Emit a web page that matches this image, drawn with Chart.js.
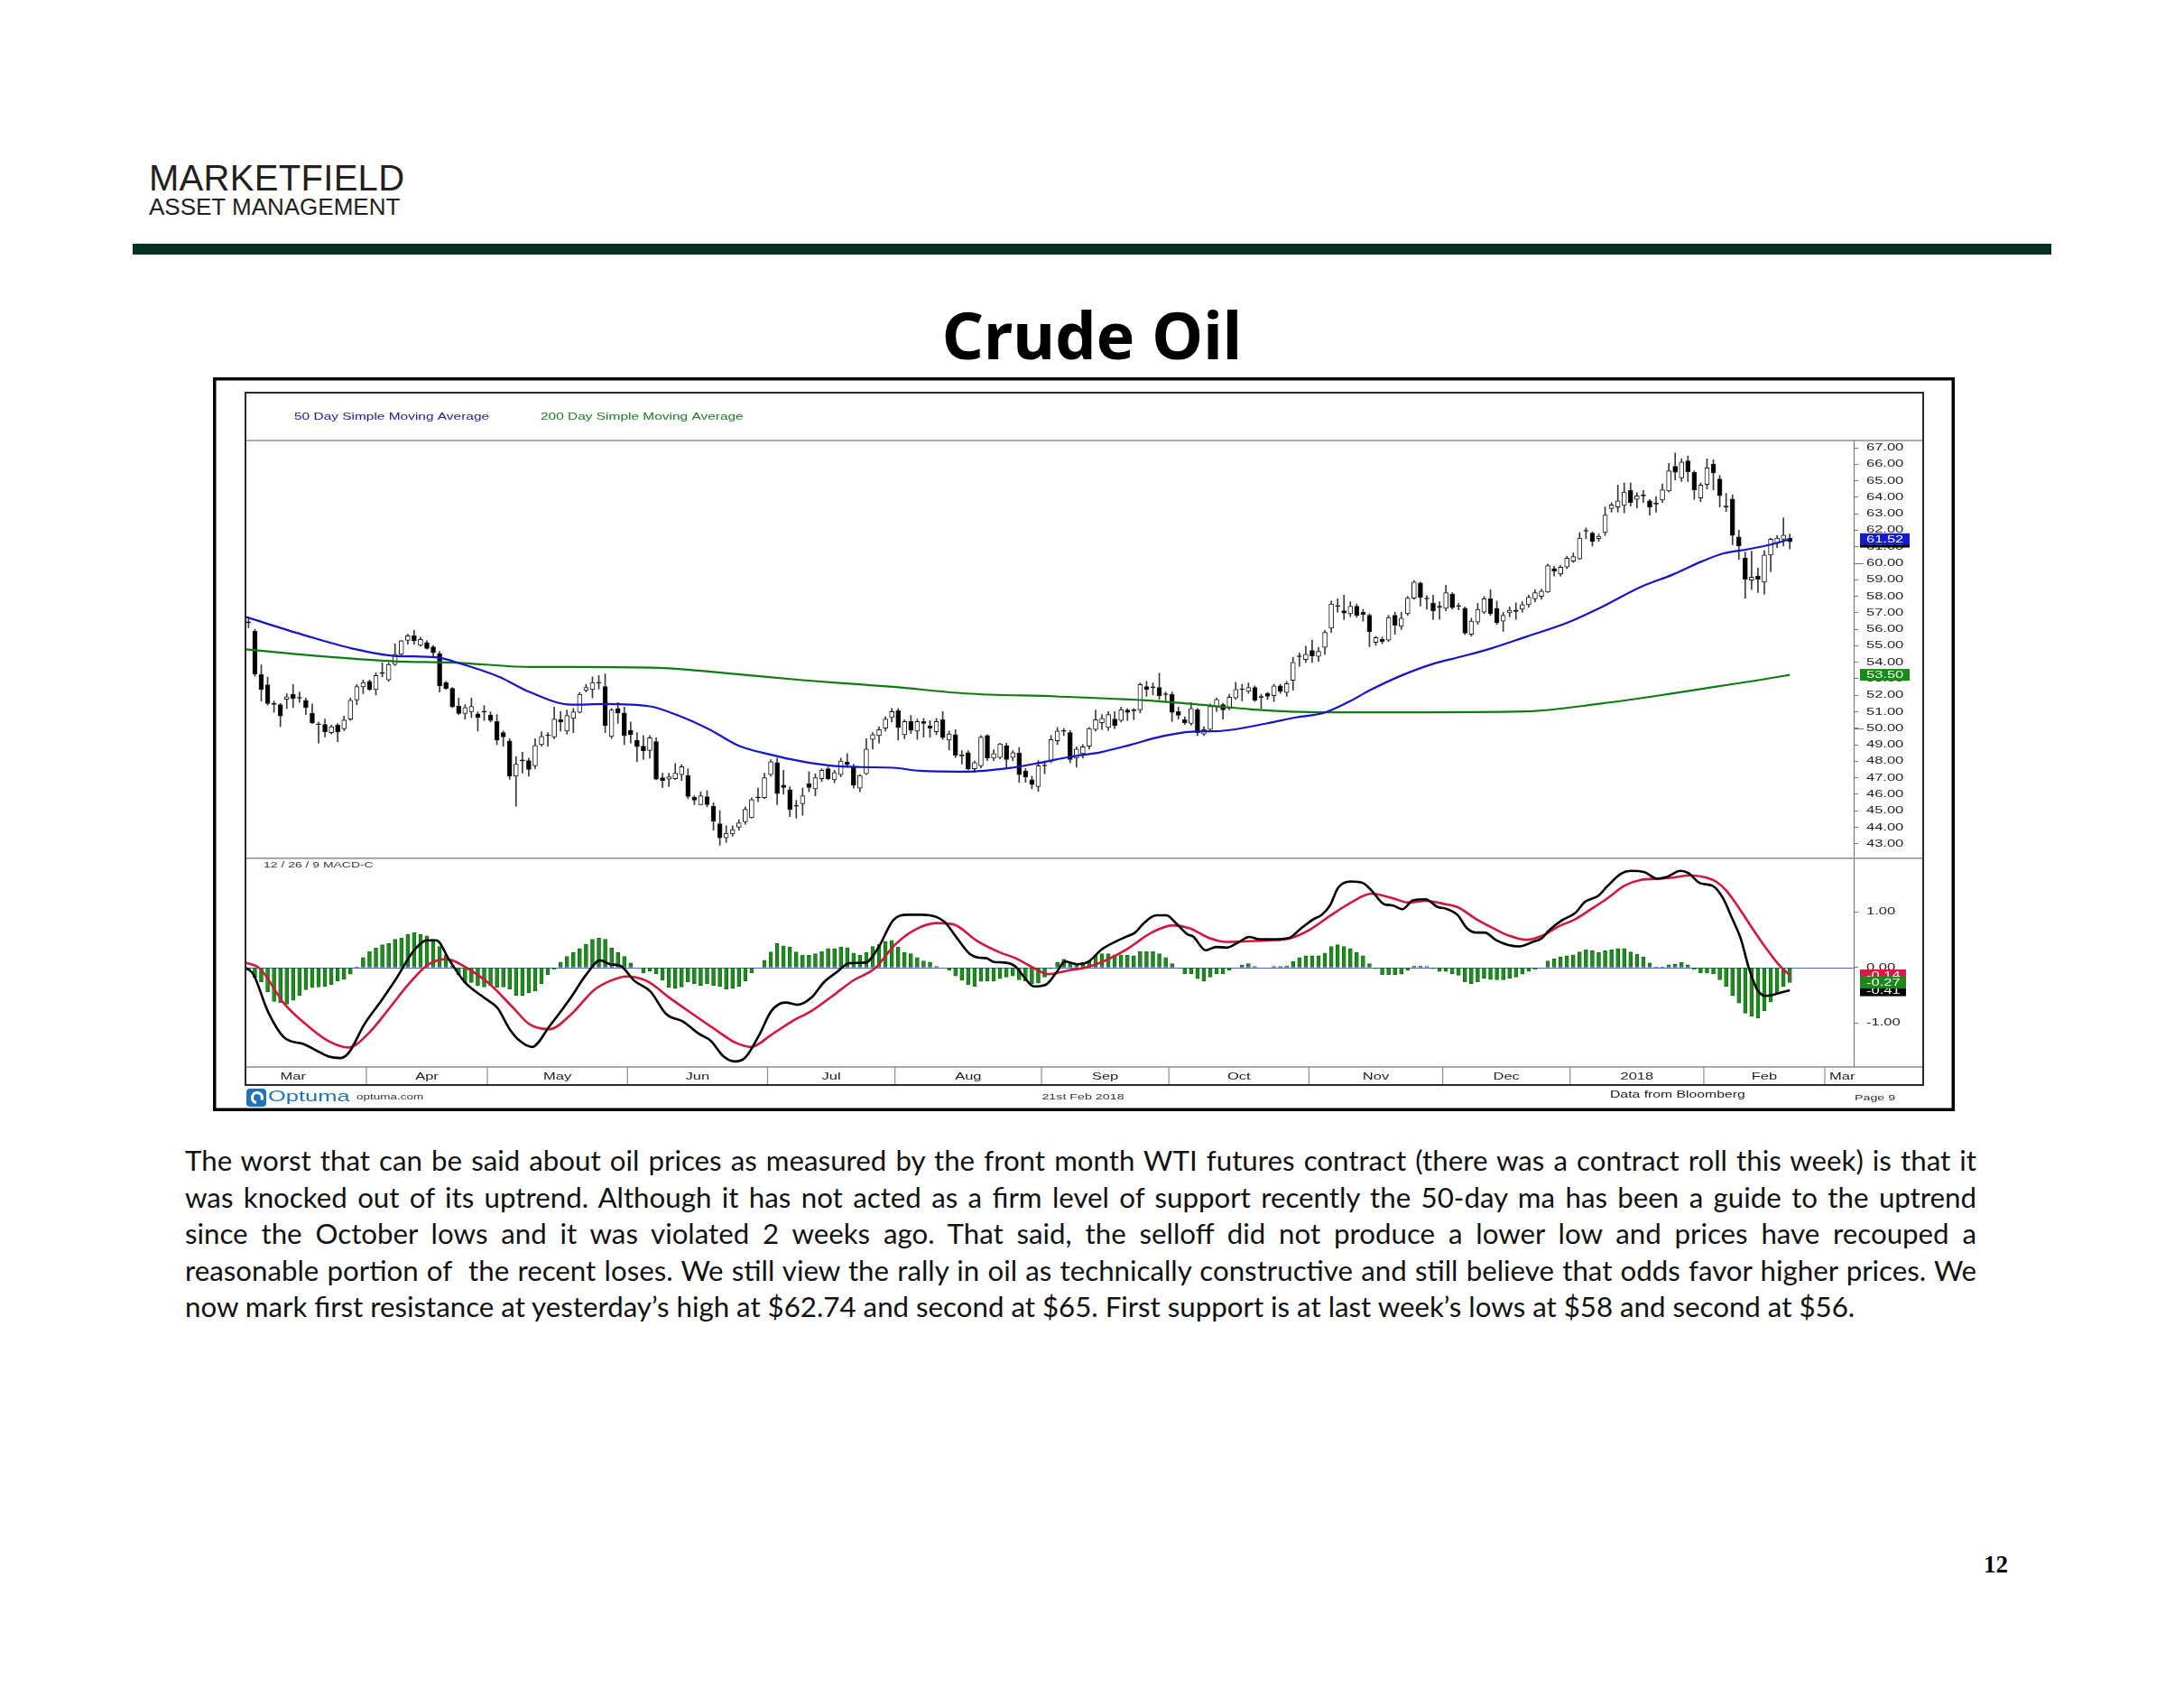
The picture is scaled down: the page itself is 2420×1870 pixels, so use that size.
<!DOCTYPE html>
<html>
<head>
<meta charset="utf-8">
<title>Crude Oil</title>
<script src="https://cdn.jsdelivr.net/npm/chart.js@4.4.1/dist/chart.umd.min.js"></script>
<style>
  html, body { margin: 0; padding: 0; background: #fff; }
  body { width: 2420px; height: 1870px; position: relative; overflow: hidden; font-family: "Liberation Sans", Arial, sans-serif; }
  .brand { position: absolute; left: 165px; color: #231f20; white-space: nowrap; }
  #brand1 { top: 177px; font-size: 40px; line-height: 40px; letter-spacing: 0.3px; }
  #brand2 { top: 216px; font-size: 26px; line-height: 26px; }
  #rule { position: absolute; left: 147px; top: 270px; width: 2126px; height: 12px; background: #06301f; }
  #title { position: absolute; left: 0; width: 2420px; top: 334px; text-align: center; font-family: "Noto Sans", sans-serif; font-weight: 700; font-size: 72px; line-height: 72px; color: #000; }
  #chart { position: absolute; left: 236px; top: 418px; width: 1930px; height: 813px; }
  #notes { position: absolute; left: 205px; top: 1265px; width: 1985px; font-family: Lato, sans-serif; font-size: 28.5px; line-height: 40.5px; color: #111; }
  #notes .ln { white-space: pre; height: 40.5px; }
  #pageNo { position: absolute; left: 2150px; width: 75px; text-align: right; top: 1718px; font-family: "Liberation Serif", serif; font-weight: 700; font-size: 27px; line-height: 30px; color: #000; }
</style>
</head>
<body>
<div id="brand1" class="brand">MARKETFIELD</div>
<div id="brand2" class="brand">ASSET MANAGEMENT</div>
<div id="rule"></div>
<div id="title">Crude Oil</div>
<canvas id="chart" width="1930" height="813"></canvas>
<div id="notes">
  <div class="ln just"><span>The worst that can be said about oil prices as measured by the front month WTI futures contract (there was a contract roll this week) is that it</span></div>
  <div class="ln just"><span>was knocked out of its uptrend. Although it has not acted as a firm level of support recently the 50-day ma has been a guide to the uptrend</span></div>
  <div class="ln just"><span>since the October lows and it was violated 2 weeks ago. That said, the selloff did not produce a lower low and prices have recouped a</span></div>
  <div class="ln just"><span>reasonable portion of  the recent loses. We still view the rally in oil as technically constructive and still believe that odds favor higher prices. We</span></div>
  <div class="ln last"><span>now mark first resistance at yesterday’s high at $62.74 and second at $65. First support is at last week’s lows at $58 and second at $56.</span></div>
</div>
<div id="pageNo">12</div>

<script>
// Daily front-month candles, Mar 7 2017 .. Feb 21 2018 (index = trading day)
var opens = [
  56.45, 55.88, 53.25, 52.64, 51.47, 51.43, 51.76, 52.05, 51.83, 51.7,
  50.92, 50.24, 50.23, 49.74, 50.19, 49.97, 50.56, 51.72, 52.51, 52.84,
  52.34, 53.34, 52.93, 53.87, 54.48, 55.33, 55.61, 55.02, 55.2, 54.93,
  54.53, 52.78, 52.42, 51.34, 50.89, 51.0, 50.87, 51.0, 50.81, 50.41,
  49.74, 49.23, 47.1, 48.05, 48.04, 47.73, 49.01, 49.57, 49.47, 50.52,
  49.83, 50.6, 50.96, 52.29, 52.35, 52.76, 52.53, 49.5, 51.2, 50.93,
  49.87, 49.28, 48.92, 48.65, 49.19, 47.01, 46.92, 46.95, 47.19, 47.14,
  45.82, 45.37, 45.86, 45.28, 44.22, 43.36, 43.6, 44.0, 44.33, 44.58,
  45.8, 45.79, 47.19, 47.92, 46.55, 46.28, 45.29, 45.42, 46.64, 46.33,
  46.95, 47.55, 46.88, 47.19, 47.95, 47.68, 46.37, 47.24, 49.32, 49.56,
  50.01, 50.65, 51.07, 49.61, 50.41, 49.83, 50.41, 50.14, 49.79, 50.52,
  49.28, 49.61, 48.35, 48.52, 47.55, 47.73, 49.56, 48.19, 48.23, 48.95,
  48.23, 48.5, 47.42, 46.88, 46.46, 47.74, 48.01, 49.24, 49.84, 49.74,
  48.19, 48.46, 48.92, 49.92, 50.34, 50.05, 50.56, 50.47, 51.11, 51.08,
  51.11, 52.53, 52.48, 52.47, 52.06, 52.05, 51.01, 50.52, 50.29, 51.14,
  49.65, 49.93, 51.29, 51.44, 51.2, 51.84, 52.36, 52.24, 52.48, 51.89,
  52.11, 51.98, 52.57, 52.17, 52.9, 54.36, 54.17, 54.72, 54.35, 54.9,
  56.07, 57.41, 57.12, 56.94, 57.4, 57.03, 56.85, 55.21, 55.39, 55.34,
  56.85, 56.18, 56.94, 57.89, 58.8, 57.86, 57.58, 57.36, 57.27, 58.13,
  57.41, 57.27, 55.7, 56.43, 57.03, 57.85, 57.27, 56.49, 57.0, 57.17,
  57.22, 57.49, 57.85, 58.0, 58.25, 59.68, 59.35, 59.77, 60.13, 60.26,
  61.95, 61.83, 61.5, 61.86, 63.32, 63.41, 63.5, 64.41, 63.87, 64.09,
  63.78, 63.6, 63.83, 64.38, 65.87, 65.18, 66.2, 65.51, 63.96, 64.78,
  66.02, 65.11, 63.42, 63.9, 61.59, 60.31, 58.98, 59.22, 58.86, 60.5,
  61.22, 61.46, 61.53
];
var highs = [
  56.75, 56.0, 53.84, 53.1, 51.65, 51.5, 52.1, 52.65, 52.2, 51.83,
  51.47, 50.38, 50.56, 50.19, 50.28, 50.74, 51.83, 52.65, 52.93, 52.93,
  53.38, 53.98, 53.98, 55.11, 55.33, 55.7, 55.93, 55.52, 55.3, 55.02,
  54.66, 52.84, 52.47, 51.83, 51.43, 51.83, 51.0, 51.38, 51.0, 50.83,
  49.83, 49.37, 48.28, 48.55, 48.19, 49.37, 49.79, 49.74, 51.29, 51.02,
  51.1, 51.2, 52.17, 52.66, 53.11, 53.2, 53.3, 51.2, 51.56, 51.29,
  50.38, 49.74, 49.56, 49.56, 49.43, 47.28, 47.28, 47.86, 47.79, 47.55,
  45.91, 46.15, 46.22, 45.49, 45.0, 44.09, 44.09, 44.46, 45.24, 45.79,
  46.37, 47.28, 48.1, 48.19, 47.46, 46.46, 45.64, 46.37, 47.37, 47.24,
  47.55, 47.64, 47.46, 48.19, 48.46, 47.83, 47.19, 49.37, 49.74, 50.1,
  50.7, 51.2, 51.2, 50.52, 50.78, 50.56, 50.6, 50.47, 50.6, 51.01,
  49.83, 49.92, 48.65, 48.65, 48.01, 49.56, 49.61, 48.7, 49.1, 49.1,
  48.65, 48.83, 47.55, 47.1, 48.04, 48.01, 49.56, 50.05, 49.98, 49.87,
  48.88, 49.01, 50.05, 51.11, 50.83, 51.01, 51.01, 51.29, 51.2, 51.2,
  52.75, 52.84, 52.75, 53.33, 52.2, 52.2, 51.29, 50.7, 51.56, 51.2,
  50.1, 51.47, 51.84, 51.51, 52.06, 52.79, 52.66, 52.75, 52.57, 52.06,
  52.17, 52.66, 52.66, 52.84, 54.3, 54.57, 54.97, 55.34, 54.9, 55.94,
  57.71, 57.85, 58.07, 57.67, 57.53, 57.21, 56.94, 55.58, 55.52, 56.85,
  57.03, 57.03, 58.0, 58.95, 58.86, 58.04, 58.07, 57.67, 58.67, 58.22,
  57.58, 57.35, 56.67, 57.58, 57.98, 58.4, 57.71, 57.03, 57.35, 57.6,
  57.67, 58.07, 58.4, 58.44, 59.95, 59.82, 59.86, 60.44, 60.62, 61.86,
  62.14, 61.9, 61.77, 63.41, 63.68, 64.74, 64.87, 64.87, 64.27, 64.41,
  63.87, 64.05, 64.81, 66.05, 66.69, 66.33, 66.51, 65.6, 64.87, 66.33,
  66.27, 65.33, 64.23, 64.14, 62.01, 60.68, 60.73, 59.71, 60.77, 61.53,
  61.68, 62.74, 61.77
];
var lows = [
  56.1, 53.15, 51.65, 51.4, 50.96, 50.1, 51.2, 51.25, 51.56, 50.83,
  50.28, 49.1, 49.47, 49.65, 49.19, 49.86, 50.47, 51.43, 52.1, 52.29,
  52.02, 53.11, 52.84, 53.8, 54.39, 55.1, 55.1, 54.97, 54.79, 54.39,
  52.2, 52.34, 51.25, 50.83, 50.56, 50.65, 49.83, 50.47, 50.38, 49.01,
  48.92, 46.9, 45.27, 47.28, 47.1, 47.55, 48.92, 48.92, 49.37, 49.83,
  49.65, 49.74, 50.93, 52.2, 51.84, 52.38, 49.74, 49.38, 50.29, 49.01,
  49.1, 47.97, 48.1, 48.19, 46.88, 46.41, 46.46, 46.88, 46.83, 45.73,
  45.37, 45.37, 45.24, 43.82, 42.91, 43.09, 43.45, 43.82, 44.18, 44.55,
  45.55, 45.73, 47.1, 45.37, 46.0, 44.64, 44.55, 44.73, 46.15, 45.91,
  46.77, 46.88, 46.7, 47.06, 47.64, 46.37, 46.15, 47.19, 48.74, 49.1,
  49.83, 50.38, 49.28, 49.37, 49.68, 49.32, 49.46, 49.46, 49.61, 49.32,
  48.7, 48.23, 47.83, 47.46, 47.32, 47.6, 48.04, 48.04, 48.15, 47.6,
  48.04, 46.73, 46.73, 46.33, 46.18, 47.24, 47.92, 49.01, 49.56, 47.92,
  47.64, 48.19, 48.74, 49.83, 49.92, 49.87, 49.98, 50.38, 50.47, 50.52,
  50.92, 51.93, 52.02, 51.74, 51.65, 50.41, 50.56, 50.23, 50.19, 49.56,
  49.56, 49.84, 51.02, 50.56, 51.11, 51.75, 51.66, 52.11, 51.62, 51.2,
  51.75, 51.62, 52.11, 51.93, 52.3, 53.75, 53.99, 53.99, 54.06, 54.48,
  55.81, 57.03, 56.58, 56.76, 56.72, 56.49, 54.94, 55.03, 55.12, 55.26,
  55.7, 55.99, 56.85, 57.82, 57.4, 57.21, 56.58, 56.61, 57.12, 57.21,
  57.17, 55.67, 55.58, 56.3, 56.94, 56.85, 56.3, 55.88, 56.75, 56.6,
  57.03, 57.34, 57.67, 57.82, 58.22, 59.22, 59.22, 59.68, 60.04, 60.22,
  61.5, 61.04, 61.32, 61.68, 63.1, 63.1, 63.05, 63.47, 63.36, 63.68,
  62.92, 63.1, 63.68, 64.32, 65.05, 64.96, 64.96, 63.87, 63.72, 64.5,
  64.45, 63.41, 63.14, 61.13, 60.22, 57.89, 58.4, 58.22, 58.13, 59.49,
  60.95, 61.04, 60.86
];
var closes = [
  56.4, 53.29, 52.34, 51.5, 51.45, 50.74, 51.91, 51.8, 51.82, 51.25,
  50.34, 50.22, 49.79, 50.1, 49.79, 50.5, 51.69, 52.53, 52.78, 52.34,
  53.2, 53.32, 53.87, 54.48, 55.3, 55.61, 55.3, 55.39, 54.84, 54.57,
  52.56, 52.42, 51.29, 50.89, 51.25, 51.32, 50.65, 50.98, 50.47, 49.28,
  49.47, 47.1, 47.82, 48.03, 47.5, 48.96, 49.5, 49.55, 50.56, 50.38,
  50.78, 51.0, 52.06, 52.48, 52.78, 52.74, 50.16, 51.11, 50.93, 49.56,
  49.61, 48.88, 48.63, 49.43, 46.92, 46.83, 47.06, 47.28, 47.68, 45.86,
  45.64, 45.91, 45.37, 44.37, 43.36, 43.64, 43.86, 44.27, 45.09, 45.68,
  45.78, 47.01, 47.97, 46.04, 46.41, 45.09, 45.27, 45.91, 46.41, 47.01,
  47.46, 46.95, 47.32, 48.01, 47.79, 46.55, 47.14, 48.74, 49.61, 49.92,
  50.56, 51.01, 50.05, 50.41, 49.87, 50.41, 50.29, 50.01, 50.41, 49.43,
  49.65, 48.37, 48.33, 47.55, 47.92, 49.46, 48.19, 48.46, 49.06, 48.1,
  48.52, 47.19, 47.06, 46.59, 47.73, 47.72, 49.32, 49.83, 49.82, 48.1,
  48.74, 48.88, 49.98, 50.52, 50.6, 50.83, 50.16, 51.14, 50.96, 51.06,
  52.65, 52.35, 52.46, 51.98, 52.04, 50.96, 50.78, 50.34, 51.2, 49.74,
  49.92, 51.33, 51.75, 51.11, 51.88, 52.35, 52.34, 52.48, 51.7, 51.87,
  51.93, 52.57, 52.24, 52.71, 53.99, 54.34, 54.48, 54.39, 54.66, 55.81,
  57.53, 57.39, 56.98, 57.4, 56.85, 56.9, 55.85, 55.49, 55.26, 56.72,
  56.25, 56.67, 57.89, 58.86, 57.94, 57.84, 57.12, 57.34, 58.22, 57.31,
  57.39, 55.76, 56.49, 57.21, 57.85, 56.94, 56.4, 56.85, 57.15, 57.08,
  57.49, 57.94, 58.22, 58.31, 59.86, 59.53, 59.77, 60.31, 60.4, 61.53,
  61.94, 61.32, 61.64, 62.92, 63.54, 63.78, 64.32, 63.68, 64.09, 64.08,
  63.41, 63.59, 64.45, 65.6, 65.51, 66.14, 65.54, 64.45, 64.74, 65.78,
  65.47, 64.09, 63.41, 61.68, 61.04, 59.04, 59.16, 59.04, 60.5, 61.46,
  61.53, 61.71, 61.31
];

// Moving averages at sample days
var ma50Days = [-0.48, 8.6, 16.2, 22.8, 29.4, 33.2, 39.4, 44.1, 50.7, 55.9, 63.0, 67.7, 72.4, 77.1, 81.9, 86.6, 91.3, 96.0, 101.2, 105.5, 112.6, 119.7, 124.4, 129.1, 133.8, 138.6, 143.3, 148.0, 152.7, 159.8, 164.5, 168.8, 172.6, 176.3, 181.1, 185.8, 190.5, 195.2, 200.4, 207.1, 211.8, 218.9, 223.6, 228.3, 231.6, 235.4, 239.2, 242];
var ma50Vals = [56.75, 55.66, 54.84, 54.39, 54.3, 53.93, 53.11, 52.2, 51.43, 51.47, 51.33, 50.74, 49.92, 48.92, 48.41, 48.01, 47.74, 47.65, 47.61, 47.42, 47.37, 47.6, 47.92, 48.28, 48.55, 49.01, 49.5, 49.79, 49.84, 50.29, 50.66, 50.93, 51.57, 52.35, 53.21, 53.88, 54.35, 54.85, 55.52, 56.4, 57.22, 58.62, 59.31, 60.13, 60.6, 60.85, 61.15, 61.46];
var ma200Days = [-0.48, 13.4, 22.8, 32.3, 44.1, 51.6, 64.4, 77.1, 86.6, 96.0, 101.2, 112.6, 126.8, 140.9, 150.8, 157.4, 168.8, 181.1, 200.4, 212.4, 223.4, 230.0, 237.3, 242];
var ma200Vals = [54.78, 54.3, 54.06, 53.98, 53.72, 53.72, 53.66, 53.26, 52.93, 52.66, 52.51, 52.11, 51.93, 51.69, 51.38, 51.15, 50.97, 50.97, 51.02, 51.5, 52.1, 52.5, 52.93, 53.24];

// MACD 12/26/9
var macdDays = [-0.45, 0.8, 3.0, 5.6, 8.7, 10.6, 12.5, 14.4, 15.7, 18.2, 20.7, 23.3, 25.8, 28.0, 29.5, 31.5, 34.0, 37.2, 39.1, 41.0, 42.6, 44.5, 47.3, 50.5, 53.0, 55.2, 56.8, 58.4, 60.6, 63.1, 65.6, 68.2, 70.7, 72.6, 74.5, 76.4, 78.0, 80.2, 82.1, 84.3, 86.2, 88.4, 90.3,
  92.4, 94.3, 96.9, 98.9, 101.2, 103.5, 105.7, 108.0, 109.3, 111.3, 113.2, 114.5, 115.8, 117.1, 118.7, 120.4, 121.7, 123.3, 125.3, 126.9, 128.2, 130.1, 131.8, 134.0, 136.0, 137.9, 139.2, 140.5, 142.5, 144.1, 145.7, 147.4, 148.3, 150.3, 151.9, 153.6, 155.5, 157.1, 158.8, 160.7, 163.3, 165.3, 167.2, 168.5, 169.8, 171.1, 173.1, 175.0, 176.3, 178.3, 179.6, 181.2, 182.8, 184.8, 186.7, 188.0,
  189.8, 191.3, 192.8, 194.1, 195.9, 197.7, 199.5, 201.6, 203.1, 204.2, 206.2, 208.3, 209.8, 211.9, 213.4, 215.5, 217.0, 219.1, 221.2, 222.7, 224.8, 226.1, 227.9, 229.9, 231.5, 233.0, 234.3, 235.6, 236.9, 238.2, 239.7, 241.3, 242];
var macdVals = [0.0, -0.13, -0.78, -1.26, -1.38, -1.49, -1.6, -1.63, -1.54, -1.02, -0.62, -0.18, 0.28, 0.49, 0.49, 0.14, -0.27, -0.56, -0.73, -1.11, -1.32, -1.43, -1.05, -0.56, -0.13, 0.13, 0.06, 0.03, -0.24, -0.43, -0.84, -0.97, -1.19, -1.32, -1.59, -1.69, -1.62, -1.21, -0.78, -0.63, -0.67, -0.54, -0.27,
  -0.08, 0.08, 0.09, 0.36, 0.85, 0.95, 0.95, 0.91, 0.82, 0.52, 0.25, 0.18, 0.17, 0.1, 0.09, 0.02, -0.16, -0.34, -0.3, -0.08, 0.11, 0.06, 0.1, 0.33, 0.46, 0.56, 0.63, 0.79, 0.94, 0.94, 0.79, 0.6, 0.56, 0.31, 0.37, 0.36, 0.46, 0.55, 0.51, 0.51, 0.53, 0.71, 0.87, 0.95, 1.12, 1.44, 1.55, 1.52, 1.39, 1.14, 1.12, 1.05, 1.21, 1.23, 1.09, 1.06,
  0.95, 0.71, 0.63, 0.63, 0.49, 0.41, 0.38, 0.46, 0.53, 0.67, 0.85, 0.98, 1.18, 1.29, 1.47, 1.69, 1.74, 1.72, 1.6, 1.63, 1.74, 1.7, 1.52, 1.47, 1.25, 0.87, 0.52, -0.02, -0.4, -0.51, -0.48, -0.43, -0.41];
var signalDays = [-0.45, 1.8, 5.6, 9.3, 12.5, 15.7, 18.8, 22.0, 25.2, 28.3, 31.2, 34.0, 37.8, 41.6, 44.1, 47.3, 50.5, 54.3, 56.8, 59.3, 62.5, 66.3, 69.4, 73.2, 76.4, 78.9, 82.1, 85.3, 88.4,
  91.7, 95.0, 98.3, 101.5, 104.8, 108.0, 110.6, 114.5, 117.8, 120.4, 123.0, 125.6, 128.8, 131.4, 134.0, 137.9, 141.8, 145.1, 147.7, 150.9, 153.6, 156.2, 160.1, 163.3, 166.6, 169.8, 173.1, 176.3, 179.6, 182.2, 184.8, 188.0,
  189.8, 192.8, 195.4, 198.0, 200.6, 203.1, 205.7, 208.3, 210.9, 213.4, 216.0, 218.6, 221.2, 223.7, 226.3, 228.9, 230.4, 232.0, 234.1, 236.1, 238.2, 240.2, 242];
var signalVals = [0.09, -0.02, -0.65, -1.05, -1.32, -1.44, -1.19, -0.75, -0.29, 0.06, 0.15, 0.01, -0.29, -0.73, -1.02, -1.11, -0.86, -0.4, -0.24, -0.16, -0.24, -0.56, -0.81, -1.11, -1.35, -1.43, -1.21, -0.97, -0.78,
  -0.51, -0.23, -0.02, 0.41, 0.69, 0.8, 0.78, 0.47, 0.28, 0.17, 0.01, -0.12, -0.05, 0.0, 0.1, 0.33, 0.63, 0.76, 0.71, 0.53, 0.46, 0.47, 0.49, 0.52, 0.68, 0.93, 1.17, 1.33, 1.25, 1.17, 1.2, 1.14,
  1.09, 0.87, 0.71, 0.57, 0.5, 0.57, 0.74, 0.87, 1.06, 1.25, 1.47, 1.58, 1.6, 1.62, 1.66, 1.62, 1.55, 1.39, 1.06, 0.71, 0.36, 0.06, -0.14];
var histVals = [
  -0.05, -0.18, -0.26, -0.44, -0.61, -0.63, -0.66, -0.59, -0.5, -0.4,
  -0.36, -0.35, -0.34, -0.31, -0.24, -0.21, -0.12, 0.01, 0.18, 0.29,
  0.35, 0.41, 0.43, 0.51, 0.53, 0.6, 0.63, 0.6, 0.57, 0.51,
  0.38, 0.22, 0.03, -0.13, -0.27, -0.27, -0.32, -0.35, -0.32, -0.36,
  -0.35, -0.39, -0.5, -0.5, -0.45, -0.42, -0.29, -0.13, -0.03, 0.1,
  0.2, 0.27, 0.34, 0.42, 0.51, 0.53, 0.51, 0.35, 0.27, 0.2,
  0.08, 0.0, -0.1, -0.06, -0.11, -0.23, -0.36, -0.37, -0.35, -0.26,
  -0.29, -0.32, -0.29, -0.32, -0.34, -0.39, -0.37, -0.34, -0.24, -0.1,
  0.0, 0.13, 0.28, 0.43, 0.39, 0.37, 0.28, 0.22, 0.22, 0.25,
  0.29, 0.34, 0.34, 0.37, 0.36, 0.26, 0.22, 0.27, 0.38, 0.42,
  0.47, 0.49, 0.37, 0.27, 0.25, 0.18, 0.12, 0.1, 0.02, 0.0,
  -0.05, -0.15, -0.23, -0.31, -0.34, -0.25, -0.24, -0.24, -0.2, -0.17,
  -0.15, -0.22, -0.24, -0.29, -0.28, -0.17, -0.02, 0.09, 0.15, 0.09,
  0.07, 0.09, 0.12, 0.23, 0.25, 0.25, 0.23, 0.23, 0.22, 0.21,
  0.29, 0.29, 0.29, 0.25, 0.18, 0.07, -0.01, -0.11, -0.11, -0.2,
  -0.24, -0.17, -0.11, -0.11, -0.05, 0.0, 0.04, 0.07, 0.02, 0.0,
  0.0, 0.02, 0.02, 0.03, 0.11, 0.18, 0.21, 0.21, 0.21, 0.26,
  0.38, 0.41, 0.38, 0.34, 0.27, 0.21, 0.07, -0.02, -0.13, -0.13,
  -0.13, -0.12, -0.05, 0.03, 0.03, 0.02, -0.02, -0.07, -0.07, -0.11,
  -0.14, -0.26, -0.29, -0.26, -0.19, -0.21, -0.22, -0.22, -0.19, -0.17,
  -0.12, -0.07, -0.03, 0.0, 0.12, 0.16, 0.19, 0.21, 0.23, 0.28,
  0.32, 0.3, 0.27, 0.3, 0.32, 0.34, 0.34, 0.28, 0.24, 0.19,
  0.08, 0.01, 0.01, 0.05, 0.06, 0.09, 0.05, -0.03, -0.1, -0.1,
  -0.11, -0.22, -0.34, -0.5, -0.64, -0.82, -0.88, -0.91, -0.78, -0.62,
  -0.45, -0.34, -0.27
];

// Time axis: first trading day of each month (index), and its label
var monthStarts = [-4, 19, 38, 60, 82, 102, 125, 145, 167, 188, 208, 229, 248];
var monthNames = ['Mar', 'Apr', 'May', 'Jun', 'Jul', 'Aug', 'Sep', 'Oct', 'Nov', 'Dec', '2018', 'Feb', 'Mar'];
var priceTicks = [43, 44, 45, 46, 47, 48, 49, 50, 51, 52, 53, 54, 55, 56, 57, 58, 59, 60, 61, 62, 63, 64, 65, 66, 67];
var priceLongTicks = [50, 60];
var macdTicks = [-1, 0, 1];

var STRETCH = 1.5;
var FONT = '"Liberation Sans", Arial, sans-serif';
var INNER = { left: 36, top: 17, right: 1895, bottom: 784 };

function wideText(c, text, x, y, size, color, align) {
    c.save();
    c.font = size + 'px ' + FONT;
    c.fillStyle = color;
    c.textBaseline = 'middle';
    c.textAlign = 'left';
    var w = c.measureText(text).width * STRETCH;
    var x0 = x;
    if (align === 'center') x0 = x - w / 2;
    if (align === 'right') x0 = x - w;
    c.translate(x0, y);
    c.scale(STRETCH, 1);
    c.fillText(text, 0, 0);
    c.restore();
}

function hline(c, x1, x2, y) {
    c.beginPath(); c.moveTo(x1, y); c.lineTo(x2, y); c.stroke();
}
function vline(c, x, y1, y2) {
    c.beginPath(); c.moveTo(x, y1); c.lineTo(x, y2); c.stroke();
}

var framePlugin = {
    id: 'frame',
    beforeDraw: function(chart) {
        var c = chart.ctx;
        c.save();
        c.fillStyle = '#fff';
        c.fillRect(0, 0, chart.width, chart.height);
        c.restore();

        // stretch the axis labels the way the source picture is stretched
        ['y', 'y2'].forEach(function(id) {
            var s = chart.scales[id];
            if (s.__wide) return;
            var orig = s.drawLabels;
            s.drawLabels = function(area) {
                var c2 = this.ctx, x0 = this.left + 14;
                c2.save();
                c2.translate(x0, 0); c2.scale(STRETCH, 1); c2.translate(-x0, 0);
                orig.call(this, area);
                c2.restore();
            };
            s.__wide = true;
        });
    },
    beforeDatasetsDraw: function(chart) {
        var c = chart.ctx, a = chart.chartArea, y2 = chart.scales.y2;
        c.save();
        c.strokeStyle = '#4f63dc';
        c.lineWidth = 1;
        hline(c, a.left, a.right, Math.round(y2.getPixelForValue(0)) + 0.5);
        c.restore();
    },
    afterDraw: function(chart) {
        var c = chart.ctx, a = chart.chartArea;
        var x = chart.scales.x, y = chart.scales.y, y2 = chart.scales.y2;
        c.save();

        // panel separators and month band
        c.strokeStyle = '#8c8c8c';
        c.lineWidth = 1.5;
        hline(c, INNER.left, INNER.right, a.top);
        hline(c, INNER.left, INNER.right, y2.top);
        hline(c, INNER.left, INNER.right, a.bottom);
        c.lineWidth = 1.2;
        var bandMid = (a.bottom + INNER.bottom) / 2 + 1;
        for (var m = 0; m < monthNames.length; m++) {
            var b0 = x.getPixelForValue(monthStarts[m] - 0.5);
            var b1 = m + 1 < monthStarts.length ? x.getPixelForValue(monthStarts[m + 1] - 0.5) : b0 + 21 * (x.getPixelForValue(1) - x.getPixelForValue(0));
            if (b0 > a.left && b0 < a.right) vline(c, b0, a.bottom, INNER.bottom);
            var mid = (b0 + b1) / 2;
            if (mid + 20 > a.right) {
                wideText(c, monthNames[m], b0 + 5, bandMid, 11, '#222', 'left');
            } else {
                wideText(c, monthNames[m], mid, bandMid, 11, '#222', 'center');
            }
        }

        // longer ticks at the round levels
        c.strokeStyle = '#777';
        c.lineWidth = 1;
        priceLongTicks.forEach(function(v) {
            var py = Math.round(y.getPixelForValue(v)) + 0.5;
            hline(c, a.right, a.right + 11, py);
        });

        // inner frame and outer frame
        c.strokeStyle = '#2b2b2b';
        c.lineWidth = 2;
        c.strokeRect(INNER.left, INNER.top, INNER.right - INNER.left, INNER.bottom - INNER.top);
        c.strokeStyle = '#000';
        c.lineWidth = 3.5;
        c.strokeRect(1.75, 1.75, chart.width - 3.5, chart.height - 3.5);

        // legend row and panel caption
        wideText(c, '50 Day Simple Moving Average', 90, 44, 10.3, '#1a1aa6', 'left');
        wideText(c, '200 Day Simple Moving Average', 363, 44, 10.3, '#1f7d1f', 'left');
        wideText(c, '12 / 26 / 9 MACD-C', 56, 540, 9.3, '#333', 'left');

        // value tags on the right axis
        function tag(scale, value, text, color, w) {
            var py = scale.getPixelForValue(value);
            c.fillStyle = color;
            c.fillRect(a.right + 7, py - 6.5, w, 13);
            wideText(c, text, a.right + 14, py + 0.5, 11, '#fff', 'left');
        }
        var last = closes.length - 1;
        tag(y, closes[last], closes[last].toFixed(2), '#000', 55);
        tag(y, ma50Vals[ma50Vals.length - 1], '61.52', '#1717d6', 55);
        tag(y, ma200Vals[ma200Vals.length - 1], '53.50', '#178a17', 55);
        tag(y2, signalVals[signalVals.length - 1], signalVals[signalVals.length - 1].toFixed(2), '#dc1a40', 51);
        tag(y2, macdVals[macdVals.length - 1], macdVals[macdVals.length - 1].toFixed(2), '#000', 51);
        tag(y2, histVals[last], histVals[last].toFixed(2), '#178a17', 51);

        // footer
        var fy = 797;
        c.fillStyle = '#1f72bd';
        c.beginPath();
        c.roundRect(37, 788, 22, 20, 4);
        c.fill();
        c.strokeStyle = '#fff';
        c.lineWidth = 3.2;
        c.beginPath();
        c.arc(49, 798, 5.5, 0.55 * Math.PI, 2.15 * Math.PI);
        c.stroke();
        wideText(c, 'Optuma', 61, fy, 17, '#1f72bd', 'left');
        wideText(c, 'optuma.com', 159, fy + 1, 9, '#333', 'left');
        wideText(c, '21st Feb 2018', 964, fy, 9.5, '#333', 'center');
        wideText(c, 'Data from Bloomberg', 1548, fy - 2, 10.5, '#222', 'left');
        wideText(c, 'Page 9', 1819, fy + 1, 9.5, '#333', 'left');
        c.restore();
    }
};

function pts(xs, ys) {
    return xs.map(function(d, i) { return { x: d, y: ys[i] }; });
}

var axisFont = { family: FONT, size: 11 };

new Chart(document.getElementById('chart').getContext('2d'), {
    type: 'bar',
    data: {
        datasets: [
            {
                type: 'line', label: 'MACD', yAxisID: 'y2', order: 0,
                data: pts(macdDays, macdVals),
                borderColor: '#000', borderWidth: 2.6, pointRadius: 0,
                cubicInterpolationMode: 'monotone'
            },
            {
                type: 'line', label: 'Signal', yAxisID: 'y2', order: 1,
                data: pts(signalDays, signalVals),
                borderColor: '#d3173f', borderWidth: 2.6, pointRadius: 0,
                cubicInterpolationMode: 'monotone'
            },
            {
                type: 'line', label: '50 Day Simple Moving Average', yAxisID: 'y', order: 0,
                data: pts(ma50Days, ma50Vals),
                borderColor: '#1414c8', borderWidth: 2.2, pointRadius: 0,
                cubicInterpolationMode: 'monotone'
            },
            {
                type: 'line', label: '200 Day Simple Moving Average', yAxisID: 'y', order: 1,
                data: pts(ma200Days, ma200Vals),
                borderColor: '#127a12', borderWidth: 2.2, pointRadius: 0,
                cubicInterpolationMode: 'monotone'
            },
            {
                type: 'bar', label: 'Body', yAxisID: 'y', order: 2, grouped: false,
                data: opens.map(function(o, i) { return { x: i, y: [o, closes[i]] }; }),
                barThickness: 5, minBarLength: 1,
                backgroundColor: function(ctx) {
                    var i = ctx.dataIndex;
                    return closes[i] >= opens[i] ? '#ffffff' : '#000000';
                },
                borderColor: '#1a1a1a', borderWidth: 1, borderSkipped: false
            },
            {
                type: 'bar', label: 'Wick', yAxisID: 'y', order: 3, grouped: false,
                data: lows.map(function(l, i) { return { x: i, y: [l, highs[i]] }; }),
                barThickness: 1, backgroundColor: '#3a3a3a', borderWidth: 0
            },
            {
                type: 'bar', label: 'Histogram', yAxisID: 'y2', order: 4, grouped: false,
                data: histVals.map(function(h, i) { return { x: i, y: h }; }),
                barThickness: 4, backgroundColor: '#1d8e1d', borderColor: '#0f640f',
                borderWidth: 0.8, borderSkipped: false
            }
        ]
    },
    options: {
        responsive: false,
        animation: false,
        devicePixelRatio: 1,
        events: [],
        layout: { padding: { left: 36, right: 35, top: 70, bottom: 49 } },
        plugins: { legend: { display: false }, tooltip: { enabled: false } },
        scales: {
            x: { type: 'linear', display: false, min: -0.48, max: 252.03, offset: false },
            y: {
                type: 'linear', position: 'right', stack: 'panels', stackWeight: 2,
                min: 42.13, max: 67.44,
                afterBuildTicks: function(s) { s.ticks = priceTicks.map(function(v) { return { value: v }; }); },
                afterFit: function(s) { s.width = 77; },
                grid: { drawOnChartArea: false, drawTicks: true, tickLength: 5, tickColor: '#777' },
                border: { display: true, color: '#6e6e6e', width: 1 },
                ticks: { autoSkip: false, padding: 9, color: '#222', font: axisFont,
                         callback: function(v) { return Number(v).toFixed(2); } }
            },
            y2: {
                type: 'linear', position: 'right', stack: 'panels', stackWeight: 1,
                min: -1.79, max: 1.97,
                afterBuildTicks: function(s) { s.ticks = macdTicks.map(function(v) { return { value: v }; }); },
                afterFit: function(s) { s.width = 77; },
                grid: { drawOnChartArea: false, drawTicks: true, tickLength: 5, tickColor: '#777' },
                border: { display: true, color: '#6e6e6e', width: 1 },
                ticks: { autoSkip: false, padding: 9, color: '#222', font: axisFont,
                         callback: function(v) { return Number(v).toFixed(2); } }
            }
        }
    },
    plugins: [framePlugin]
});

// size the note text so the unjustified last line spans like the original,
// then justify the other lines to the column width
function justifyNotes() {
    var width = 1985, lastWidth = 1850, base = 28.5;
    var notes = document.getElementById('notes');
    var lines = notes.querySelectorAll('.ln');
    lines.forEach(function(el) { el.firstElementChild.style.wordSpacing = '0px'; });
    notes.style.fontSize = base + 'px';
    var lastSpan = notes.querySelector('.ln.last span');
    var size = base * lastWidth / lastSpan.getBoundingClientRect().width;
    notes.style.fontSize = size.toFixed(2) + 'px';
    lines.forEach(function(el) {
        if (!el.classList.contains('just')) return;
        var span = el.firstElementChild;
        var natural = span.getBoundingClientRect().width;
        var gaps = (span.textContent.match(/ /g) || []).length;
        if (gaps) span.style.wordSpacing = ((width - natural) / gaps) + 'px';
    });
}
justifyNotes();
if (document.fonts && document.fonts.ready) document.fonts.ready.then(justifyNotes);
</script>
</body>
</html>
